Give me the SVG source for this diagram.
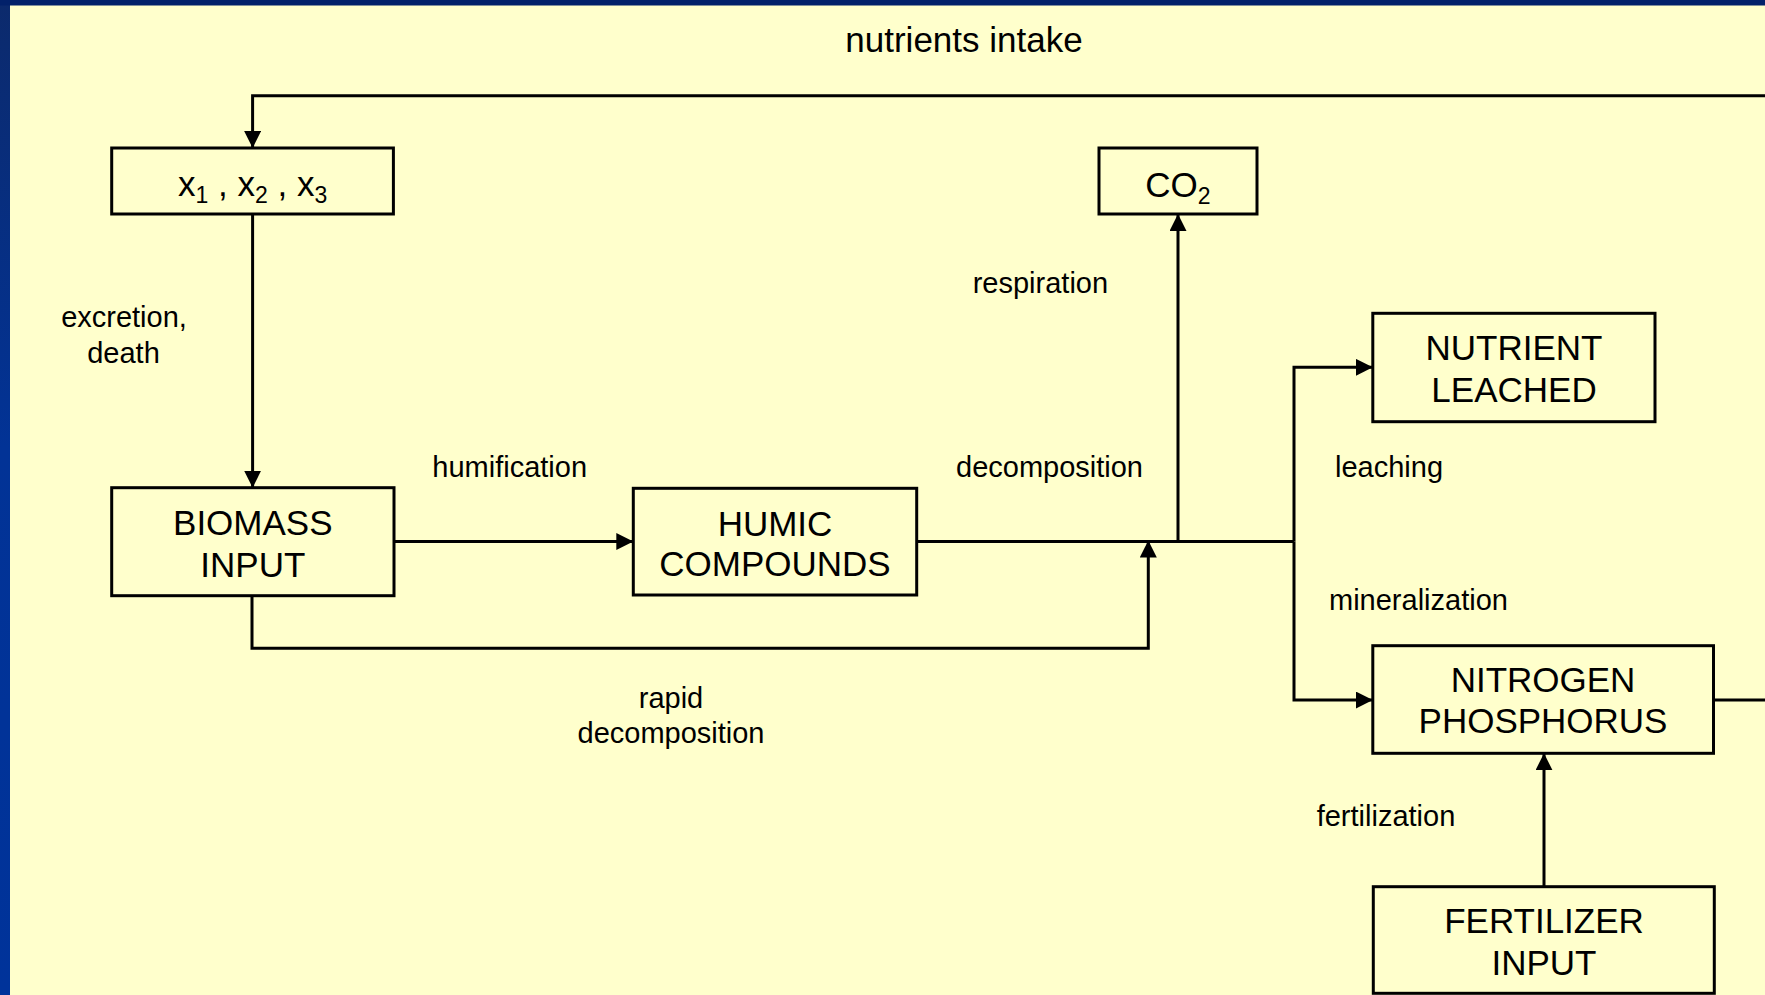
<svg xmlns="http://www.w3.org/2000/svg" width="1765" height="995" viewBox="0 0 1765 995">
  <style>
    .box { fill: #FFFFCC; stroke: #000; stroke-width: 3; }
    .big { font-family: "Liberation Sans", Arial, sans-serif; font-size: 35px; fill: #000; text-anchor: middle; }
    .lbl { font-family: "Liberation Sans", Arial, sans-serif; font-size: 29px; fill: #000; }
    .title { font-size: 35px; }
    .mid { text-anchor: middle; }
    .wire { fill: none; stroke: #000; stroke-width: 3; }
  </style>
  <defs>
    <linearGradient id="edge" x1="0" y1="0" x2="0" y2="1">
      <stop offset="0" stop-color="#0c2a6c"/>
      <stop offset="0.45" stop-color="#023396"/>
      <stop offset="1" stop-color="#00339a"/>
    </linearGradient>
    <marker id="arrow" markerUnits="userSpaceOnUse" markerWidth="18" markerHeight="18" refX="17" refY="8.5" orient="auto">
      <path d="M0,0 L17,8.5 L0,17 z" fill="#000"/>
    </marker>
  </defs>

  <!-- slide background and frame -->
  <rect x="0" y="0" width="1765" height="995" fill="#FFFFCC"/>
  <rect x="0" y="0" width="10" height="995" fill="url(#edge)"/>
  <rect x="0" y="0" width="1765" height="5.5" fill="#02216a"/>

  <!-- flow connectors -->
  <g id="connectors">
    <!-- nutrients intake loop from NITROGEN/PHOSPHORUS back to x1,x2,x3 -->
    <path class="wire" d="M1713.5,700 H1800 V95.7 H252.6 V148" marker-end="url(#arrow)"/>
    <!-- excretion, death -->
    <path class="wire" d="M252.6,214 V487.7" marker-end="url(#arrow)"/>
    <!-- humification -->
    <path class="wire" d="M394,541.6 H633.3" marker-end="url(#arrow)"/>
    <!-- rapid decomposition -->
    <path class="wire" d="M252,595.7 V648.3 H1148.3 V540.5" marker-end="url(#arrow)"/>
    <!-- decomposition trunk -->
    <path class="wire" d="M916.7,541.6 H1294"/>
    <!-- respiration -->
    <path class="wire" d="M1178,541.6 V214" marker-end="url(#arrow)"/>
    <!-- leaching -->
    <path class="wire" d="M1294,541.6 V367.3 H1372.8" marker-end="url(#arrow)"/>
    <!-- mineralization -->
    <path class="wire" d="M1294,541.6 V700 H1372.8" marker-end="url(#arrow)"/>
    <!-- fertilization -->
    <path class="wire" d="M1544,886.7 V753.3" marker-end="url(#arrow)"/>
  </g>

  <!-- nodes -->
  <g id="node-x">
    <rect class="box" x="111.7" y="148" width="281.7" height="66"/>
    <text class="big" x="252.6" y="196">x<tspan font-size="23" dy="7">1</tspan><tspan dy="-7"> , x</tspan><tspan font-size="23" dy="7">2</tspan><tspan dy="-7"> , x</tspan><tspan font-size="23" dy="7">3</tspan></text>
  </g>
  <g id="node-co2">
    <rect class="box" x="1099" y="148" width="158" height="66"/>
    <text class="big" x="1178" y="196.7">CO<tspan font-size="23" dy="7">2</tspan></text>
  </g>
  <g id="node-leached">
    <rect class="box" x="1372.8" y="313.3" width="282.2" height="108.4"/>
    <text class="big" x="1514" y="360">NUTRIENT</text>
    <text class="big" x="1514" y="401.7">LEACHED</text>
  </g>
  <g id="node-biomass">
    <rect class="box" x="111.7" y="487.7" width="282.3" height="108"/>
    <text class="big" x="252.8" y="534.5">BIOMASS</text>
    <text class="big" x="252.8" y="577">INPUT</text>
  </g>
  <g id="node-humic">
    <rect class="box" x="633.3" y="488.3" width="283.4" height="106.7"/>
    <text class="big" x="775" y="535.5">HUMIC</text>
    <text class="big" x="775" y="576">COMPOUNDS</text>
  </g>
  <g id="node-np">
    <rect class="box" x="1372.8" y="645.7" width="340.7" height="107.6"/>
    <text class="big" x="1543" y="691.7">NITROGEN</text>
    <text class="big" x="1543" y="733.3">PHOSPHORUS</text>
  </g>
  <g id="node-fertilizer">
    <rect class="box" x="1373.3" y="886.7" width="341" height="106.6"/>
    <text class="big" x="1544" y="933.3">FERTILIZER</text>
    <text class="big" x="1544" y="975">INPUT</text>
  </g>

  <!-- connector labels -->
  <g id="labels">
    <text class="lbl title mid" x="964" y="51.7">nutrients intake</text>
    <text class="lbl mid" x="124" y="326.7">excretion,</text>
    <text class="lbl mid" x="123.5" y="363.3">death</text>
    <text class="lbl" x="432.3" y="476.7">humification</text>
    <text class="lbl" x="972.7" y="292.7">respiration</text>
    <text class="lbl" x="956" y="476.7">decomposition</text>
    <text class="lbl" x="1335" y="476.7">leaching</text>
    <text class="lbl" x="1329" y="610">mineralization</text>
    <text class="lbl mid" x="671" y="707.7">rapid</text>
    <text class="lbl mid" x="671" y="743.3">decomposition</text>
    <text class="lbl" x="1316.7" y="826">fertilization</text>
  </g>
</svg>
